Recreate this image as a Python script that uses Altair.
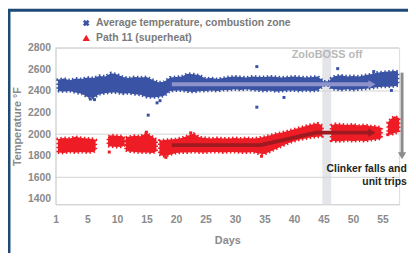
import altair as alt
import pandas as pd

FONT = "Liberation Sans"
BLUE = "#3a53a4"
RED = "#ee1c25"
DARKRED = "#9e1a20"
LAVENDER = "#8e93cc"
GRAY_TXT = "#8a8a8a"

# ---- data ----
blue_day = [0, 1, 2, 3, 4, 5, 6, 7, 8, 9, 10, 11, 12, 13, 14, 15, 16, 17, 18, 19, 20,
            21, 22, 23, 24, 25, 26, 27, 28, 29, 30, 31, 32, 33, 34, 35, 36, 37, 38, 39,
            40, 41, 42, 43, 44, 44.8, 45, 46, 46.3, 47, 48, 49, 50, 51, 52, 53, 54, 55,
            56, 57, 57.6]
blue_hi = [2505, 2515, 2500, 2515, 2510, 2525, 2520, 2540, 2535, 2565, 2555, 2530, 2520,
           2530, 2525, 2530, 2505, 2480, 2485, 2525, 2530, 2535, 2560, 2555, 2545, 2515,
           2520, 2510, 2520, 2530, 2535, 2530, 2525, 2535, 2530, 2530, 2535, 2530, 2525,
           2530, 2535, 2530, 2525, 2530, 2535, 2500, 2488, 2490, 2520, 2540, 2545, 2535,
           2540, 2535, 2545, 2555, 2570, 2575, 2580, 2585, 2580]
blue_lo = [2400, 2395, 2400, 2385, 2375, 2345, 2335, 2370, 2380, 2385, 2385, 2375, 2380,
           2370, 2365, 2345, 2340, 2345, 2355, 2400, 2405, 2405, 2395, 2390, 2400, 2400,
           2405, 2400, 2410, 2410, 2415, 2410, 2415, 2410, 2405, 2400, 2405, 2395, 2400,
           2405, 2405, 2400, 2405, 2400, 2405, 2440, 2452, 2450, 2420, 2415, 2410, 2415,
           2410, 2415, 2420, 2425, 2435, 2440, 2440, 2445, 2450]

red_day = [0, 1, 2, 3, 4, 5, 6, 6.4,
           8.5, 9, 10, 11, 11.3,
           11.5, 12, 13, 14, 15, 16, 16.7,
           17.2, 18, 19, 20, 21, 22, 23, 24, 25, 26, 27, 28, 29, 30, 31, 32, 33, 34, 35,
           36, 37, 38, 39, 40, 41, 42, 43, 44, 44.8,
           46.3, 47, 48, 49, 50, 51, 52, 53, 54, 54.8,
           55.9, 56.5, 57, 57.8]
red_seg = ([1] * 8 + [2] * 5 + [3] * 7 + [4] * 29 + [5] * 10 + [6] * 4)
red_lo = [1830, 1825, 1835, 1830, 1835, 1830, 1835, 1850,
          1890, 1885, 1880, 1885, 1900,
          1850, 1840, 1835, 1830, 1830, 1825, 1840,
          1810, 1795, 1810, 1825, 1830, 1830, 1835, 1830, 1830, 1835, 1835, 1830, 1835,
          1835, 1830, 1830, 1835, 1820, 1815, 1840, 1865, 1890, 1915, 1935, 1950, 1960,
          1970, 1975, 1980,
          1940, 1935, 1935, 1940, 1935, 1940, 1935, 1945, 1950, 1960,
          2000, 1995, 2010, 2020]
red_hi = [1955, 1965, 1960, 1975, 1965, 1960, 1955, 1945,
          1975, 1990, 1985, 1980, 1960,
          1970, 1975, 1985, 1980, 2010, 1975, 1950,
          1940, 1945, 1950, 1955, 1965, 1985, 2005, 1970, 1965, 1960, 1965, 1960, 1960,
          1965, 1960, 1965, 1960, 1965, 1975, 1990, 2005, 2015, 2030, 2045, 2060, 2075,
          2090, 2100, 2080,
          2080, 2095, 2090, 2085, 2090, 2080, 2085, 2075, 2070, 2060,
          2110, 2145, 2165, 2150]

blue_out_day = [15.3, 16.8, 17.3, 33.7, 33.7, 38.3, 47.4, 53.5, 56.5, 5.5, 6.2]
blue_out_val = [2176, 2290, 2310, 2626, 2250, 2340, 2607, 2580, 2405, 2325, 2320]
red_out_day = [8.7, 18.3, 22.5, 34.5, 15.0, 55.9]
red_out_val = [1834, 1785, 2012, 1795, 2018, 1995]

trend_blue_day = [19.3, 53.2]
trend_blue_val = [2462, 2462]
trend_red_day = [19.3, 34.3, 43.7, 53.2]
trend_red_val = [1898, 1898, 2014, 2014]

grid_vals = [1600, 2000, 2400, 2800]
x_ticks = [-0.4, 5, 10, 15, 20, 25, 30, 35, 40, 45, 50, 55]
y_ticks = [1400, 1600, 1800, 2000, 2200, 2400, 2600, 2800]

off_start, off_end = 44.8, 46.3
arrow_day, arrow_top, arrow_bottom = 58.3, 2570, 1800

# ---- chart ----
W, H = 347, 158
XS = alt.Scale(domain=[-0.4, 57.8], nice=False, zero=False)
YS = alt.Scale(domain=[1350, 2800], nice=False, zero=False)

AX_X = alt.Axis(values=x_ticks, labelExpr="datum.value < 1 ? '1' : datum.label",
                title="Days", grid=False, ticks=False, domainColor="#cfcfcf",
                labelFont=FONT, labelFontSize=10.5, labelFontWeight="bold",
                labelColor=GRAY_TXT, labelPadding=10, labelFlush=False,
                labelOverlap=False,
                titleFont=FONT, titleFontSize=11, titleFontWeight="bold",
                titleColor=GRAY_TXT, titlePadding=10)
AX_Y = alt.Axis(values=y_ticks, format="d",
                title="Temperature °F", grid=False, ticks=False,
                domainColor="#cfcfcf", labelFont=FONT, labelFontSize=10.5,
                labelFontWeight="bold", labelColor=GRAY_TXT, labelPadding=5,
                labelOverlap=False, titleFont=FONT, titleFontSize=11,
                titleFontWeight="bold", titleColor=GRAY_TXT,
                titleX=-38, titleY=H / 2, titleAlign="center",
                titleBaseline="middle", titleAngle=270)


def X(field):
    return alt.X(field, type="quantitative", scale=XS, axis=AX_X)


def Y(field):
    return alt.Y(field, type="quantitative", scale=YS, axis=AX_Y)


blue_df = pd.DataFrame({"day": blue_day, "lo": blue_lo, "hi": blue_hi})
red_df = pd.DataFrame({"day": red_day, "lo": red_lo, "hi": red_hi, "seg": red_seg})

band = alt.Chart(pd.DataFrame({"a": [off_start], "b": [off_end], "y1": [1350], "y2": [2800]})).mark_rect(
    color="#e4e5e8").encode(x=X("a"), x2="b", y=Y("y1"), y2="y2")

grid = alt.Chart(pd.DataFrame({"g": grid_vals})).mark_rule(color="#d2d2d2", strokeWidth=1).encode(
    y=Y("g"))

blue_area = alt.Chart(blue_df).mark_area(color=BLUE, opacity=1, stroke=BLUE, strokeWidth=3,
                                         strokeDash=[1.5, 2.5], strokeOpacity=1).encode(
    x=X("day"), y=Y("lo"), y2="hi")
red_area = alt.Chart(red_df).mark_area(color=RED, opacity=1, stroke=RED, strokeWidth=3,
                                       strokeDash=[1.5, 2.5], strokeOpacity=1).encode(
    x=X("day"), y=Y("lo"), y2="hi", detail="seg:N")

blue_pts = alt.Chart(pd.DataFrame({"d": blue_out_day, "v": blue_out_val})).mark_square(
    color=BLUE, size=9, opacity=1).encode(x=X("d"), y=Y("v"))
red_pts = alt.Chart(pd.DataFrame({"d": red_out_day, "v": red_out_val})).mark_square(
    color=RED, size=9, opacity=1).encode(x=X("d"), y=Y("v"))

tb = pd.DataFrame({"d": trend_blue_day, "v": trend_blue_val})
blue_trend = alt.Chart(tb).mark_line(color=LAVENDER, strokeWidth=4).encode(x=X("d"), y=Y("v"))
blue_head = alt.Chart(tb.tail(1)).mark_point(shape="triangle-right", filled=True, color=LAVENDER,
                                               size=70, opacity=1).encode(x=X("d"), y=Y("v"))
tr = pd.DataFrame({"d": trend_red_day, "v": trend_red_val})
red_trend = alt.Chart(tr).mark_line(color=DARKRED, strokeWidth=4).encode(x=X("d"), y=Y("v"))
red_head = alt.Chart(tr.tail(1)).mark_point(shape="triangle-right", filled=True, color=DARKRED,
                                              size=70, opacity=1).encode(x=X("d"), y=Y("v"))

arr = pd.DataFrame({"d": [arrow_day], "a": [arrow_top], "b": [arrow_bottom]})
arrow = alt.Chart(arr).mark_rule(color="#8c8c8c", strokeWidth=3).encode(x=X("d"), y=Y("a"), y2="b")
arrow_head = alt.Chart(arr).mark_point(shape="triangle-down", filled=True, color="#8c8c8c",
                                       size=70, opacity=1).encode(x=X("d"), y=Y("b"))

off_txt = alt.Chart(pd.DataFrame({"d": [45.6], "v": [2736], "t": ["ZoloBOSS off"]})).mark_text(
    font=FONT, fontSize=11, fontWeight="bold", color="#b8b8b8", baseline="middle").encode(
    x=X("d"), y=Y("v"), text="t:N")

clinker = alt.Chart(pd.DataFrame({"d": [59.1, 59.1], "v": [1680, 1552],
                                  "t": ["Clinker falls and", "unit trips"]})).mark_text(
    font=FONT, fontSize=10.5, fontWeight="bold", color="#231f20", align="right",
    baseline="middle").encode(x=X("d"), y=Y("v"), text="t:N")

leg_df = pd.DataFrame({"t": ["Average temperature, combustion zone", "Path 11 (superheat)"],
                       "py": [-25, -10]})
leg_txt = alt.Chart(leg_df).mark_text(font=FONT, fontSize=10.5, fontWeight="bold", color="#7a7a7a",
                                      align="left", baseline="middle").encode(
    x=alt.value(41), y=alt.Y("py:Q", scale=None), text="t:N")
leg_blue = alt.Chart(pd.DataFrame({"a": [0]})).mark_point(shape="cross", angle=45, filled=True,
                                                           color=BLUE, size=45, opacity=1).encode(
    x=alt.value(31), y=alt.value(-25))
leg_red = alt.Chart(pd.DataFrame({"a": [0]})).mark_point(shape="triangle-up", filled=True,
                                                          color=RED, size=55, opacity=1).encode(
    x=alt.value(31), y=alt.value(-10))

frame_left = alt.Chart(pd.DataFrame({"a": [0]})).mark_rule(color="#1d4a77", strokeWidth=3).encode(
    x=alt.value(-47), y=alt.value(-39), y2=alt.value(H + 60))
frame_top = alt.Chart(pd.DataFrame({"a": [0]})).mark_rule(color="#1d4a77", strokeWidth=3).encode(
    x=alt.value(-48), x2=alt.value(W + 20), y=alt.value(-38))

chart = alt.layer(
    band, grid, blue_area, red_area, blue_pts, red_pts,
    blue_trend, blue_head, red_trend, red_head, arrow, arrow_head,
    off_txt, clinker, leg_txt, leg_blue, leg_red, frame_left, frame_top
).properties(
    width=W, height=H,
    padding={"left": 48, "top": 39, "right": 9, "bottom": 48},
    autosize=alt.AutoSizeParams(type="none"),
).configure_view(stroke=None).configure_axis(labelOverlap=False).configure(background="white")

chart.save("out.html", embed_options={"renderer": "svg", "actions": False})
